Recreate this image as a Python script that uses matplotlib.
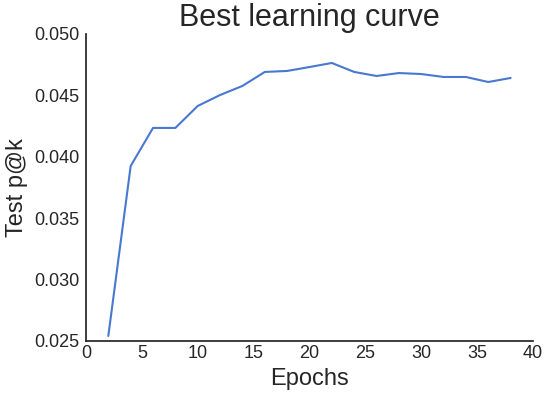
import matplotlib
matplotlib.use("Agg")
import matplotlib.pyplot as plt
import seaborn as sns

epochs = [2, 4, 6, 8, 10, 12, 14, 16, 18, 20, 22, 24, 26, 28, 30, 32, 34, 36, 38]
pak = [0.02541, 0.03925, 0.04235, 0.04235, 0.04414, 0.04503, 0.04577, 0.04691,
       0.04699, 0.04731, 0.04764, 0.04691, 0.04658, 0.04682, 0.04674, 0.0465,
       0.0465, 0.04609, 0.04642]

sns.set_style("white")
plt.rcParams['font.family'] = ['Liberation Sans', 'DejaVu Sans']
plt.rcParams['text.color'] = '.15'
plt.rcParams['axes.labelcolor'] = '.15'
plt.rcParams['xtick.color'] = '.15'
plt.rcParams['ytick.color'] = '.15'

fig = plt.figure(figsize=(5.49, 3.99), dpi=100)
ax = fig.add_axes([0.1566, 0.1454, 0.8142, 0.7694])
ax.plot(epochs, pak, color="#4878CF", lw=1.5)
ax.set_xlim(0, 40)
ax.set_ylim(0.025, 0.050)
ax.set_xticks(range(0, 41, 5))
ax.set_yticks([0.025, 0.030, 0.035, 0.040, 0.045, 0.050])
ax.set_yticklabels(["0.025", "0.030", "0.035", "0.040", "0.045", "0.050"])
ax.tick_params(labelsize=13, length=0, pad=5)
ax.tick_params(axis='x', pad=3)
ax.set_title("Best learning curve", fontsize=22)
ax.set_xlabel("Epochs", fontsize=17)
ax.set_ylabel("Test p@k", fontsize=17)
for s in ["top", "right"]:
    ax.spines[s].set_visible(False)
for s in ["left", "bottom"]:
    ax.spines[s].set_color(".15")
    ax.spines[s].set_linewidth(1.25)
fig.savefig("out.png", dpi=100)
